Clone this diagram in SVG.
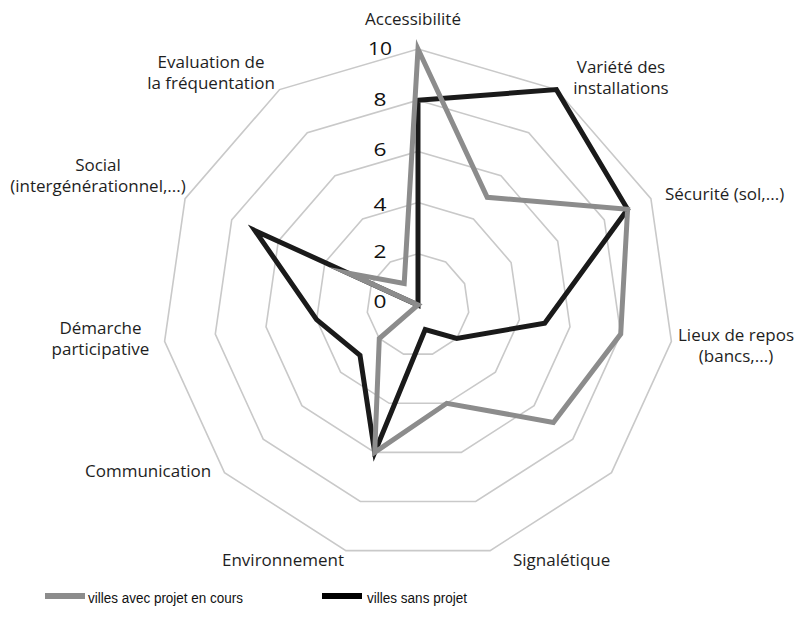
<svg xmlns="http://www.w3.org/2000/svg" width="797" height="617" viewBox="0 0 797 617">
<style>
.ring{fill:none;stroke:#c9c9c9;stroke-width:1.6}
.lbl{font-family:"Open Sans","Noto Sans",sans-serif;font-size:17px;fill:#1e1e1e}
.mid{text-anchor:middle}
.tick{font-family:"Open Sans","Noto Sans",sans-serif;font-size:18px;fill:#111;text-anchor:middle}
.ser{fill:none;stroke-width:5;stroke-linejoin:miter;stroke-miterlimit:10}
.leg{font-family:"Liberation Sans",Arial,sans-serif;font-size:14px;fill:#111}
</style>
<rect width="797" height="617" fill="#fff"/>
<g id="grid">
<polygon class="ring" points="418,49 556.4,89.6 650.9,198.7 671.4,341.4 611.5,472.7 490.1,550.6 345.9,550.6 224.5,472.7 164.6,341.4 185.1,198.7 279.6,89.6"/>
<polygon class="ring" points="418,100.2 528.7,132.7 604.3,219.9 620.7,334.1 572.8,439.1 475.7,501.5 360.3,501.5 263.2,439.1 215.3,334.1 231.7,219.9 307.3,132.7"/>
<polygon class="ring" points="418,151.4 501,175.8 557.7,241.2 570,326.9 534.1,405.6 461.3,452.4 374.7,452.4 301.9,405.6 266,326.9 278.3,241.2 335,175.8"/>
<polygon class="ring" points="418,202.6 473.4,218.9 511.1,262.5 519.4,319.6 495.4,372.1 446.8,403.3 389.2,403.3 340.6,372.1 316.6,319.6 324.9,262.5 362.6,218.9"/>
<polygon class="ring" points="418,253.8 445.7,261.9 464.6,283.7 468.7,312.3 456.7,338.5 432.4,354.1 403.6,354.1 379.3,338.5 367.3,312.3 371.4,283.7 390.3,261.9"/>
</g>
<g id="ticks">
<text class="tick" x="380" y="55" textLength="24" lengthAdjust="spacingAndGlyphs">10</text>
<text class="tick" x="380" y="106" textLength="13" lengthAdjust="spacingAndGlyphs">8</text>
<text class="tick" x="380" y="156" textLength="13" lengthAdjust="spacingAndGlyphs">6</text>
<text class="tick" x="380" y="211" textLength="13" lengthAdjust="spacingAndGlyphs">4</text>
<text class="tick" x="380" y="258" textLength="13" lengthAdjust="spacingAndGlyphs">2</text>
<text class="tick" x="380" y="308" textLength="13" lengthAdjust="spacingAndGlyphs">0</text>
</g>
<g id="series">
<polygon id="sans-projet" class="ser" stroke="#1a1a1a" points="418,100.2 556.4,89.6 627.6,209.3 544.7,323.2 456.7,338.5 425.2,329.6 374.7,452.4 360,355.3 316.6,319.6 255,230.6 418,305"/>
<polygon id="avec-projet" class="ser" stroke="#8c8c8c" points="418,49 487.2,197.3 627.6,209.3 620.7,334.1 553.4,422.4 446.8,403.3 374.7,452.4 379.3,338.5 418,305 348.1,273.1 404.2,283.5"/>
</g>
<g id="axis-accessibilite"><text class="lbl mid" x="413" y="25">Accessibilité</text></g>
<g id="axis-variete"><text class="lbl mid" x="621" y="73">Variété des</text><text class="lbl mid" x="621" y="94">installations</text></g>
<g id="axis-securite"><text class="lbl" x="665" y="200">Sécurité (sol,...)</text></g>
<g id="axis-repos"><text class="lbl mid" x="736" y="341">Lieux de repos</text><text class="lbl mid" x="736" y="362">(bancs,...)</text></g>
<g id="axis-signaletique"><text class="lbl" x="513" y="566">Signalétique</text></g>
<g id="axis-environnement"><text class="lbl" x="222" y="566">Environnement</text></g>
<g id="axis-communication"><text class="lbl" x="85" y="477">Communication</text></g>
<g id="axis-demarche"><text class="lbl mid" x="100.5" y="334">Démarche</text><text class="lbl mid" x="100.5" y="355">participative</text></g>
<g id="axis-social"><text class="lbl mid" x="98" y="170.5">Social</text><text class="lbl mid" x="98" y="191.5">(intergénérationnel,...)</text></g>
<g id="axis-evaluation"><text class="lbl mid" x="211" y="68">Evaluation de</text><text class="lbl mid" x="211" y="89">la fréquentation</text></g>
<g id="legend">
<rect x="45" y="593" width="40" height="6" fill="#8c8c8c"/>
<text class="leg" x="88" y="603" textLength="155" lengthAdjust="spacingAndGlyphs">villes avec projet en cours</text>
<rect x="322" y="593" width="40" height="6" fill="#000"/>
<text class="leg" x="367" y="603" textLength="100" lengthAdjust="spacingAndGlyphs">villes sans projet</text>
</g>
</svg>
